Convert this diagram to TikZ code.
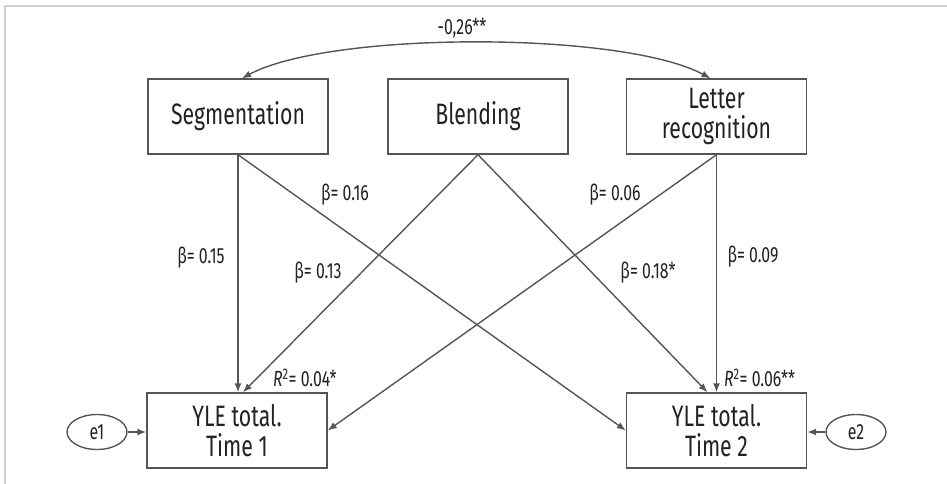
\documentclass[tikz,border=0pt]{standalone}
\usepackage{fontspec}
\setmainfont[FakeStretch=0.72]{Fira Sans}
\usetikzlibrary{arrows.meta,shapes.geometric}
\definecolor{ln}{HTML}{555555}
\definecolor{brd}{HTML}{CFCFCF}
\definecolor{tx}{HTML}{222222}
\begin{document}
\begin{tikzpicture}[x=1pt,y=-1pt,
 box/.style={draw=ln,line width=1.4pt,minimum width=180pt,minimum height=75pt,align=center,inner sep=0pt,font=\fontsize{29.5}{30}\selectfont,text=tx},
 err/.style={draw=ln,line width=1.4pt,ellipse,minimum width=60pt,minimum height=35pt,inner sep=0pt,font=\fontsize{22}{24}\selectfont,text=tx},
 lbl/.style={font=\fontsize{22}{24}\selectfont,text=tx,inner sep=0pt},
 arr/.style={draw=ln,line width=1.4pt,-{Latex[length=9pt,width=7pt]}},
 darr/.style={draw=ln,line width=1.4pt,{Latex[length=9pt,width=7pt]}-{Latex[length=9pt,width=7pt]}},
]
\useasboundingbox (0,0) rectangle (947,484);
\draw[brd,line width=2pt] (5,484) -- (5,6) -- (947,6);

\node[box] (seg) at (238,116.5) {Segmentation};
\node[box] (bld) at (478,116.5) {Blending};
\node[box] (let) at (716.5,116.5) {Letter\\recognition};
\node[box] (t1) at (237,430.5) {YLE total.\\Time 1};
\node[box] (t2) at (716.5,430.5) {YLE total.\\Time 2};
\node[err] (e1) at (97,432) {e1};
\node[err] (e2) at (856,432) {e2};

\draw[darr] ([xshift=4pt]seg.north) .. controls (330,31) and (622,31) .. ([xshift=-6pt]let.north);
\node[lbl] (corr) at (462,28) {-0,26**};

\draw[arr] (seg.south) -- (seg.south |- t1.north);
\draw[arr] (seg.south) -- (t2.west);
\draw[arr] (bld.south) -- ([xshift=6pt]t1.north);
\draw[arr] (bld.south) -- ([xshift=-9pt]t2.north);
\draw[arr] (let.south) -- (t1.east);
\draw[arr] (let.south) -- (t2.north);
\draw[arr] (e1) -- (e1 -| t1.west);
\draw[arr] (e2) -- (e2 -| t2.east);

\node[lbl] (b15) at (201,258) {β= 0.15};
\node[lbl] (b16) at (345,195) {β= 0.16};
\node[lbl] (b13) at (318,273) {β= 0.13};
\node[lbl] (b06) at (615,195) {β= 0.06};
\node[lbl] (b18) at (648,273) {β= 0.18*};
\node[lbl] (b09) at (753,257) {β= 0.09};
\node[lbl,anchor=west] (r1) at (273,378) {\textit{R}\textsuperscript{2}= 0.04*};
\node[lbl,anchor=west] (r2) at (724,378) {\textit{R}\textsuperscript{2}= 0.06**};
\end{tikzpicture}
\end{document}
